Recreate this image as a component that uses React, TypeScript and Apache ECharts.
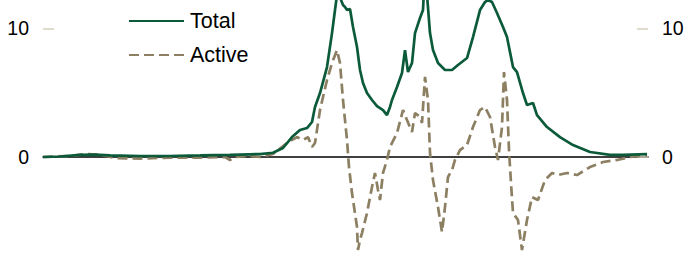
import React, { useEffect, useRef } from "react";
import * as echarts from "echarts";

// x positions (days from start) and values for each series
const totalDays = [0, 17, 37, 52, 67, 97, 127, 157, 187, 207, 217, 230, 240, 249, 257, 264, 269, 272, 277, 284, 289, 292, 294, 297, 300, 302, 304, 307, 310, 314, 317, 320, 324, 329, 334, 340, 344, 347, 349, 354, 359, 362, 365, 369, 372, 377, 380, 381, 384, 387, 390, 395, 402, 409, 415, 424, 430, 437, 442, 445, 449, 454, 460, 464, 470, 474, 480, 484, 490, 494, 504, 517, 530, 547, 567, 580, 604];
const totalValues = [0, 0.04, 0.16, 0.19, 0.12, 0.08, 0.08, 0.12, 0.17, 0.21, 0.23, 0.33, 0.7, 1.55, 2.1, 2.25, 2.72, 3.89, 4.97, 6.99, 9.63, 11.42, 12.6, 12.4, 11.81, 11.66, 11.42, 11.5, 10.1, 8.55, 6.76, 5.75, 4.97, 4.43, 3.96, 3.65, 3.26, 3.89, 4.43, 5.44, 6.53, 8.31, 6.6, 7.3, 9.63, 10.8, 11.42, 13.0, 12.6, 9.63, 8.31, 7.3, 6.76, 6.76, 7.15, 7.69, 9.32, 11.42, 12.04, 12.2, 12.04, 11.19, 10.1, 9.32, 6.99, 6.6, 4.97, 4.04, 4.2, 3.26, 2.33, 1.55, 0.93, 0.39, 0.16, 0.16, 0.23];

const activeDays = [0, 27, 42, 57, 72, 97, 127, 157, 182, 187, 192, 207, 217, 230, 244, 254, 260, 265, 269, 272, 277, 284, 289, 294, 297, 300, 304, 306, 309, 314, 315, 317, 319, 324, 329, 332, 335, 337, 340, 344, 347, 354, 360, 364, 369, 372, 377, 379, 382, 385, 387, 390, 395, 399, 402, 405, 409, 412, 417, 424, 430, 437, 442, 447, 452, 455, 459, 461, 464, 466, 468, 470, 475, 479, 484, 489, 495, 502, 509, 515, 524, 534, 547, 560, 574, 587, 604];
const activeValues = [0, 0.08, 0.23, 0.19, -0.08, -0.12, -0.04, -0.04, 0, -0.23, 0, 0.08, 0, 0.23, 1.09, 1.55, 1.32, 1.55, 0.78, 1.09, 3.65, 5.98, 7.3, 8.31, 7.3, 4.43, 1.32, -0.78, -2.8, -5.44, -7.23, -6.45, -5.91, -4.35, -2.33, -1.24, -2.56, -3.34, -1.24, -0.23, 0.78, 1.86, 3.65, 2.87, 1.94, 3.42, 3.11, 2.64, 6.22, 4.43, 0.31, -1.79, -3.89, -5.83, -3.89, -1.55, -1.01, -0.23, 0.54, 0.93, 2.33, 3.65, 3.89, 3.11, 0.78, -0.23, 2.33, 6.6, 4.43, 0.54, -2.02, -4.35, -4.9, -7.23, -4.9, -3.11, -3.34, -1.79, -1.24, -1.4, -1.24, -1.4, -0.78, -0.39, -0.23, 0, 0.16];

const seriesNames = ["Total", "Active"];
const yTickValues = [0, 10];
const yMin = -8.08;
const yMax = 12.2;
const xMax = 605;

const FONT = "'Liberation Sans', Arial, sans-serif";

export default function App() {
  const ref = useRef<HTMLDivElement>(null);
  useEffect(() => {
    document.body.style.margin = "0";
    if (!ref.current) return;
    const chart = echarts.init(ref.current, undefined, { renderer: "svg" });
    const yAxisBase = (position: "left" | "right") => ({
      type: "value",
      position,
      min: yMin,
      max: yMax,
      axisLine: { show: false },
      axisTick: {
        show: true,
        inside: true,
        length: 11,
        customValues: yTickValues,
        lineStyle: { color: "#d6d0bd", width: 1.5 },
      },
      axisLabel: {
        show: true,
        customValues: yTickValues,
        fontSize: 19.5,
        color: "#000",
        margin: 14,
        fontFamily: FONT,
      },
      splitLine: { show: false },
    });
    chart.setOption({
      animation: false,
      grid: { left: 43, right: 39, top: 0, bottom: 0 },
      legend: {
        data: seriesNames,
        orient: "vertical",
        left: 123,
        top: 5,
        itemWidth: 55,
        itemHeight: 20,
        itemGap: 12,
        itemStyle: { opacity: 0 },
        textStyle: { fontSize: 21.5, color: "#000", fontFamily: FONT, padding: [0, 0, 0, 1] },
      },
      xAxis: {
        type: "value",
        min: 0,
        max: xMax,
        axisLine: { show: true, onZero: true, lineStyle: { color: "#000", width: 1.5 } },
        axisTick: { show: false },
        axisLabel: { show: false },
        splitLine: { show: false },
      },
      yAxis: [yAxisBase("left"), yAxisBase("right")],
      series: [
        {
          name: seriesNames[0],
          type: "line",
          symbol: "none",
          showSymbol: false,
          data: totalDays.map((d, i) => [d, totalValues[i]]),
          lineStyle: { color: "#0b5a3a", width: 2.7 },
          itemStyle: { color: "#0b5a3a" },
          z: 3,
        },
        {
          name: seriesNames[1],
          type: "line",
          symbol: "none",
          showSymbol: false,
          data: activeDays.map((d, i) => [d, activeValues[i]]),
          lineStyle: { color: "#8c7f62", width: 2.7, type: [10, 5] },
          itemStyle: { color: "#8c7f62" },
          z: 2,
        },
      ],
    });
    return () => chart.dispose();
  }, []);
  return <div ref={ref} style={{ width: 687, height: 261 }} />;
}
